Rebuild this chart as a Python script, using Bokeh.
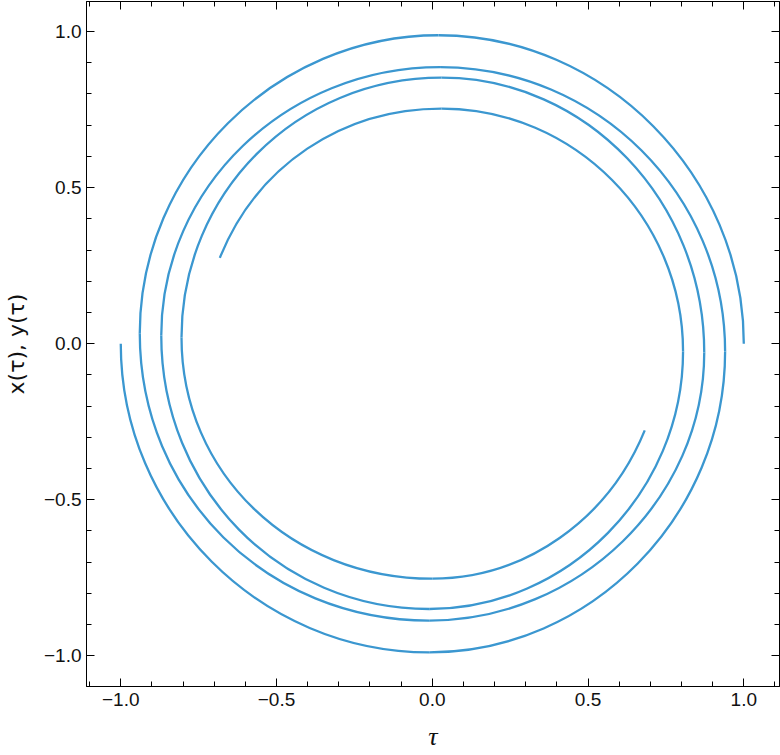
import math
from bokeh.plotting import figure
from bokeh.models import FixedTicker, LinearAxis, Range1d
from bokeh.embed import file_html
from bokeh.resources import INLINE

# Turning points (right/top/left/bottom extremes), then the end point.
# Curve A starts at (1, 0) and winds counter-clockwise.
a_x = [1.000, 0.020, -0.939, -0.010, 0.873, 0.030, -0.805, 0.000, 0.682]
a_y = [0.000, 0.988, 0.033, -0.887, -0.028, 0.852, 0.020, -0.753, -0.278]
# Curve B starts at (-1, 0) and winds counter-clockwise.
b_x = [-1.000, -0.010, 0.940, 0.025, -0.870, -0.010, 0.805, 0.030, -0.682]
b_y = [0.000, -0.989, -0.025, 0.886, 0.026, -0.850, -0.025, 0.753, 0.275]

tick_values = [-1.0, -0.5, 0.0, 0.5, 1.0]
tick_labels = ["\u22121.0", "\u22120.5", "0.0", "0.5", "1.0"]
minor_values = [-1.1, -0.9, -0.8, -0.7, -0.6, -0.4, -0.3, -0.2, -0.1,
                0.1, 0.2, 0.3, 0.4, 0.6, 0.7, 0.8, 0.9, 1.1]

x_label = "\u03c4"
y_label = "x(\u03c4), y(\u03c4)"

LINE_COLOR = "#3b97d0"
TEXT_COLOR = "#111111"


def tangent(x, y, kind):
    if kind == "v":
        return (0.0, 1.0 if x > 0 else -1.0)
    if kind == "h":
        return (-1.0 if y > 0 else 1.0, 0.0)
    r = math.hypot(x, y)
    return (-y / r, x / r)


def bezier_segments(xs, ys):
    kinds = ["v" if i % 2 == 0 else "h" for i in range(len(xs))]
    kinds[-1] = "e"
    out = dict(x0=[], y0=[], x1=[], y1=[], cx0=[], cy0=[], cx1=[], cy1=[])
    for i in range(len(xs) - 1):
        x0, y0, x1, y1 = xs[i], ys[i], xs[i + 1], ys[i + 1]
        t0 = tangent(x0, y0, kinds[i])
        t1 = tangent(x1, y1, kinds[i + 1])
        phi = (math.atan2(y1, x1) - math.atan2(y0, x0)) % (2 * math.pi)
        f = 4.0 / 3.0 * math.tan(phi / 4.0) / math.sin(phi)
        dx, dy = x1 - x0, y1 - y0
        h0 = f * abs(dx * t0[0] + dy * t0[1])
        h1 = f * abs(dx * t1[0] + dy * t1[1])
        out["x0"].append(x0); out["y0"].append(y0)
        out["x1"].append(x1); out["y1"].append(y1)
        out["cx0"].append(x0 + h0 * t0[0]); out["cy0"].append(y0 + h0 * t0[1])
        out["cx1"].append(x1 - h1 * t1[0]); out["cy1"].append(y1 - h1 * t1[1])
    return out


p = figure(frame_width=693, frame_height=685,
           x_range=Range1d(-1.110, 1.1146), y_range=Range1d(-1.0983, 1.0961),
           output_backend="svg", toolbar_location=None,
           min_border_left=86, min_border_right=1, min_border_top=1, min_border_bottom=68,
           x_axis_label=x_label, y_axis_label=y_label)

p.grid.visible = False
p.outline_line_color = "black"
p.outline_line_width = 1
p.background_fill_color = "white"
p.border_fill_color = "white"

ticker = FixedTicker(ticks=tick_values, minor_ticks=minor_values)
overrides = dict(zip(tick_values, tick_labels))

for ax in p.axis:
    ax.ticker = ticker
    ax.major_label_overrides = overrides
    ax.axis_line_color = "black"
    ax.major_tick_line_color = "black"
    ax.minor_tick_line_color = "black"
    ax.major_tick_in = 8
    ax.major_tick_out = 0
    ax.minor_tick_in = 5
    ax.minor_tick_out = 0
    ax.major_label_text_font = "Liberation Sans"
    ax.major_label_text_font_size = "19px"
    ax.major_label_text_color = TEXT_COLOR
    ax.axis_label_text_color = TEXT_COLOR

p.xaxis.major_label_standoff = 6
p.yaxis.major_label_standoff = 5
p.xaxis.axis_label_text_font = "Liberation Serif"
p.xaxis.axis_label_text_font_style = "italic"
p.xaxis.axis_label_text_font_size = "26px"
p.xaxis.axis_label_standoff = 13
p.yaxis.axis_label_text_font = "DejaVu Sans"
p.yaxis.axis_label_text_font_style = "normal"
p.yaxis.axis_label_text_font_size = "22px"
p.yaxis.axis_label_standoff = 12

blank = {v: "" for v in tick_values}
for loc in ["above", "right"]:
    ax = LinearAxis(ticker=ticker, major_label_overrides=blank,
                    major_label_standoff=0, major_tick_in=8, major_tick_out=0,
                    minor_tick_in=5, minor_tick_out=0, axis_line_color="black",
                    major_tick_line_color="black", minor_tick_line_color="black")
    p.add_layout(ax, loc)

for xs, ys in [(a_x, a_y), (b_x, b_y)]:
    seg = bezier_segments(xs, ys)
    p.bezier(x0=seg["x0"], y0=seg["y0"], x1=seg["x1"], y1=seg["y1"],
             cx0=seg["cx0"], cy0=seg["cy0"], cx1=seg["cx1"], cy1=seg["cy1"],
             line_color=LINE_COLOR, line_width=2.3)

open("out.html", "w").write(file_html(p, INLINE))
